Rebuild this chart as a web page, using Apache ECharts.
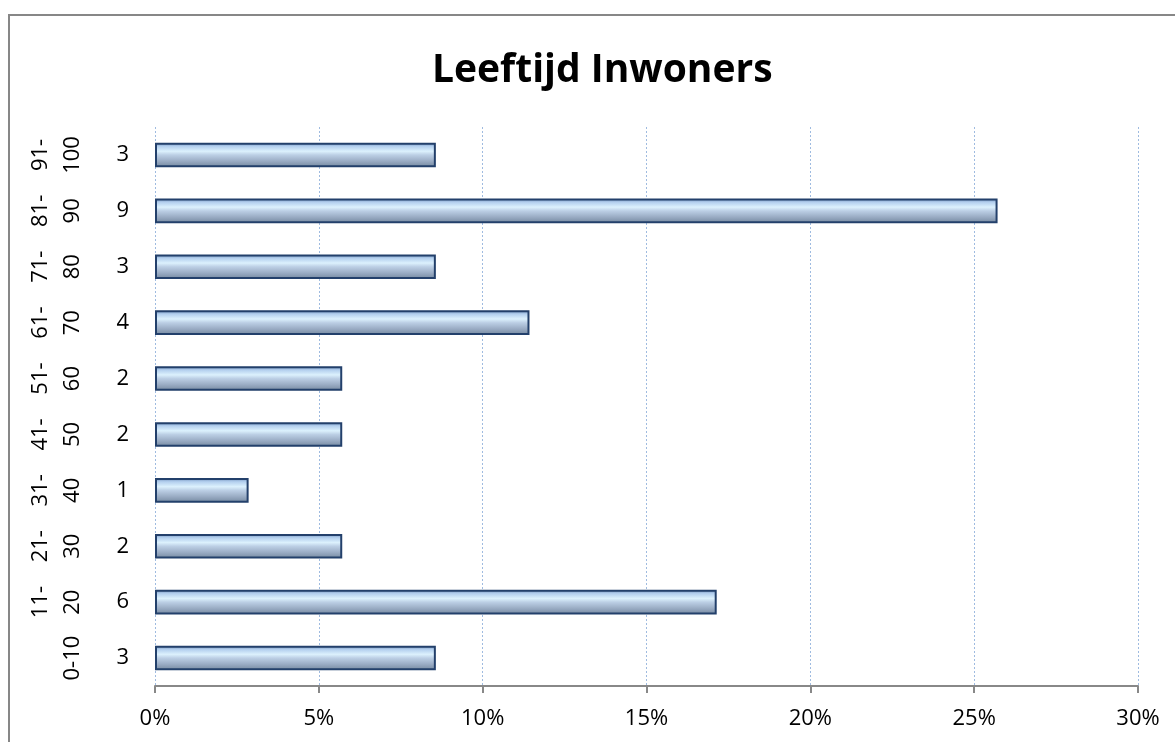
<!DOCTYPE html>
<html>
<head>
<meta charset="utf-8">
<script src="https://cdn.jsdelivr.net/npm/echarts@6/dist/echarts.min.js"></script>
<style>
html,body{margin:0;padding:0;background:#fff;}
#chart{width:1175px;height:742px;}
</style>
</head>
<body>
<div id="chart"></div>
<script>
const titleText = 'Leeftijd Inwoners';
const categories = ['0-10', '11-\n20', '21-\n30', '31-\n40', '41-\n50', '51-\n60', '61-\n70', '71-\n80', '81-\n90', '91-\n100'];
const counts = [3, 6, 2, 1, 2, 2, 4, 3, 9, 3];
const xTicks = { min: 0, max: 30, interval: 5 };

const total = counts.reduce((a, b) => a + b, 0);
const shares = counts.map(c => c / total * 100);

const FONT = 'Open Sans';
const chart = echarts.init(document.getElementById('chart'), null, { renderer: 'canvas' });
chart.setOption({
  backgroundColor: '#ffffff',
  animation: false,
  title: {
    text: titleText,
    left: 427,
    top: 46,
    textStyle: { fontFamily: FONT, fontWeight: 'bold', fontSize: 39, color: '#000' }
  },
  graphic: [{
    type: 'rect',
    shape: { x: 9, y: 15, width: 1300, height: 900 },
    style: { fill: 'none', stroke: '#878787', lineWidth: 2 },
    silent: true
  }],
  grid: { left: 155, right: 37, top: 127, bottom: 56, containLabel: false },
  xAxis: {
    type: 'value',
    min: xTicks.min, max: xTicks.max, interval: xTicks.interval,
    axisLine: { show: true, lineStyle: { color: '#888888', width: 2 } },
    axisTick: { show: true, length: 7, lineStyle: { color: '#888888', width: 2 } },
    axisLabel: { formatter: '{value}%', fontFamily: FONT, fontSize: 22, color: '#000', margin: 22 },
    splitLine: { show: true, lineStyle: { color: '#9fbbe0', type: [2, 2], width: 1 } }
  },
  yAxis: {
    type: 'category',
    data: categories,
    axisLine: { show: false },
    axisTick: { show: false },
    axisLabel: { interval: 0, rotate: 90, fontFamily: FONT, fontSize: 22, color: '#000', margin: 66, lineHeight: 32 }
  },
  series: [{
    type: 'bar',
    data: shares,
    barWidth: '44%',
    itemStyle: {
      borderColor: '#23406b',
      borderWidth: 2,
      color: {
        type: 'linear', x: 0, y: 0, x2: 0, y2: 1,
        colorStops: [
          { offset: 0, color: '#6f8fba' },
          { offset: 0.15, color: '#b3cfee' },
          { offset: 0.35, color: '#dcf1fd' },
          { offset: 0.5, color: '#bccfe5' },
          { offset: 0.75, color: '#9aacc4' },
          { offset: 1, color: '#74889f' }
        ]
      }
    },
    label: {
      show: true,
      position: 'left',
      distance: 26,
      formatter: p => String(counts[p.dataIndex]),
      fontFamily: FONT, fontSize: 22, color: '#000'
    }
  }]
});
</script>
</body>
</html>
